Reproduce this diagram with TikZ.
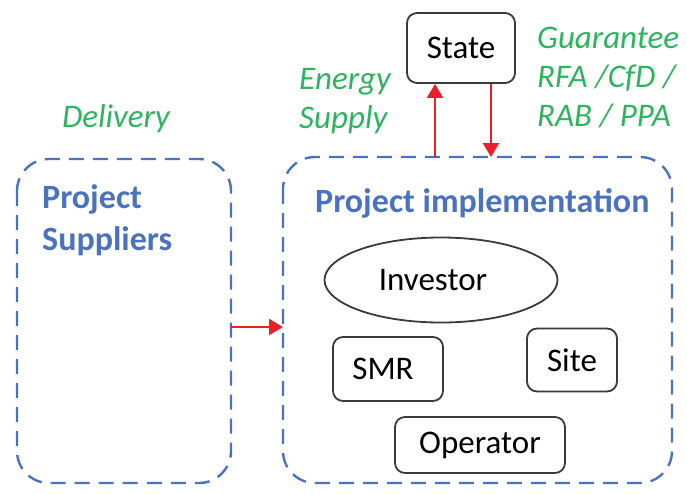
\documentclass[tikz,border=0pt]{standalone}
\usepackage{fontspec}
\setmainfont{Carlito}
\usetikzlibrary{arrows.meta,shapes.geometric}
\definecolor{frameblue}{HTML}{4A72C0}
\definecolor{labelgreen}{HTML}{2EB45E}
\definecolor{flowred}{HTML}{E8202A}
\definecolor{boxgray}{HTML}{3A3A3A}
\tikzset{
  txt/.style={font=\fontsize{33}{38}\selectfont},
  entity/.style={draw=boxgray, line width=1.8pt, rounded corners=10pt, fill=white, txt, inner sep=0pt},
  zone/.style={draw=frameblue, line width=2.4pt, dash pattern=on 15pt off 9pt, rounded corners=32pt},
  zonetitle/.style={text=frameblue, font=\fontsize{34}{42}\selectfont\bfseries, align=left, anchor=west, inner sep=0pt},
  note/.style={text=labelgreen, font=\fontsize{33}{39}\selectfont\itshape, align=left, inner sep=0pt},
  flow/.style={draw=flowred, line width=2.4pt, -{Triangle[length=14pt,width=16pt]}}
}
\begin{document}
\begin{tikzpicture}[x=1pt,y=-1pt]
\useasboundingbox (0,0) rectangle (687,493);
% dashed zones
\draw[zone] (17,159) rectangle (231,483);
\draw[zone] (283,157) rectangle (672,483);
\coordinate (supR) at (231,327);
\coordinate (impL) at (283,327);
\coordinate (impTopA) at (435,157);
\coordinate (impTopB) at (491,157);
% zone titles
\node[zonetitle] (suptitle) at (42,220) {Project\\Suppliers};
\node[zonetitle] (imptitle) at (315,203) {Project implementation};
% entities
\node[entity, minimum width=108pt, minimum height=70pt] (state) at (461,48) {State};
\node[draw=boxgray, line width=1.8pt, ellipse, minimum width=233pt, minimum height=85pt, inner sep=0pt, txt] (investor) at (441,280) {\hspace*{-16pt}Investor};
\node[entity, minimum width=110pt, minimum height=64pt] (smr) at (388,369) {\hspace*{-10pt}SMR};
\node[entity, minimum width=90pt, minimum height=63pt] (site) at (572,360) {Site};
\node[entity, minimum width=170pt, minimum height=56pt] (operator) at (480,445) {Operator};
% labels
\node[note, anchor=north] (delivery) at (116,104) {Delivery};
\node[note, anchor=north west] (energy) at (299,68) {Energy\\Supply};
\node[note, anchor=north west] (guar) at (537,27) {Guarantee\\RFA /CfD /\\RAB / PPA};
% flows
\draw[flow] (impTopA) -- (impTopA |- state.south);
\draw[flow] (impTopB |- state.south) -- (impTopB);
\draw[flow] (supR) -- (impL);
\end{tikzpicture}
\end{document}
